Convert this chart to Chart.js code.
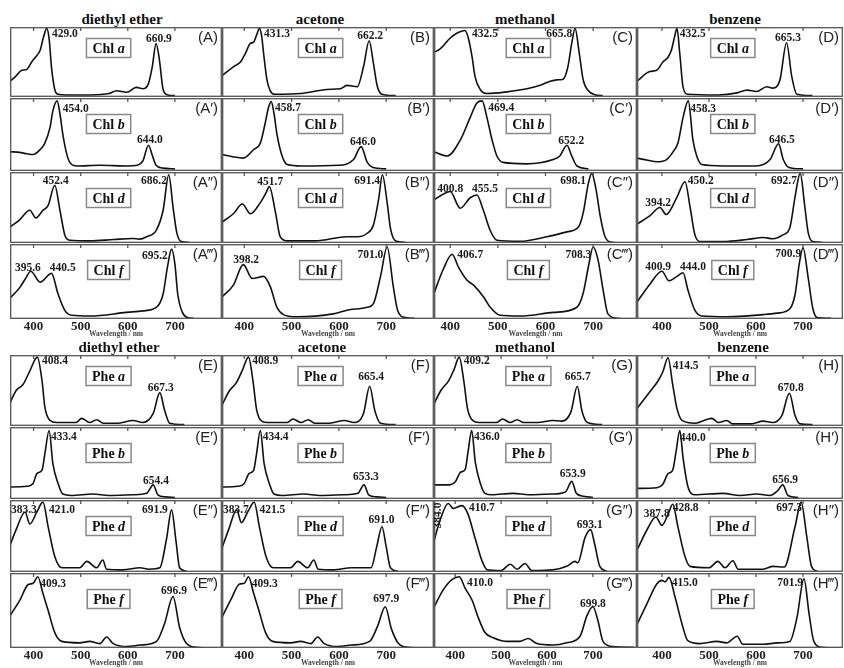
<!DOCTYPE html>
<html>
<head>
<meta charset="utf-8">
<script src="https://cdn.jsdelivr.net/npm/chart.js@4.4.0/dist/chart.umd.min.js"></script>
<style>
  body { margin: 0; background: #fff; width: 844px; height: 668px; position: relative; overflow: hidden; }
  .cell { position: absolute; }
  .cell canvas { display: block; }
  .title { position: absolute; font: bold 15px "Liberation Serif", serif; color: #111; transform: translate(-50%, -50%); white-space: nowrap; }
</style>
</head>
<body>
<script>
// x ticks shared by every panel
var xTicks = [400, 500, 600, 700];
var solvents = ['diethyl ether', 'acetone', 'methanol', 'benzene'];

// spectra, [wavelength nm, normalised absorbance]
var chlA_ether = [[350,0.23],[362,0.30],[375,0.39],[385,0.40],[396,0.51],[404,0.58],[414,0.68],[421,0.87],[428,1.0],[433,0.85],[438,0.44],[445,0.11],[452,0.04],[470,0.03],[520,0.03],[560,0.05],[576,0.09],[598,0.07],[618,0.14],[632,0.12],[643,0.18],[652,0.44],[660,0.78],[667,0.55],[675,0.11],[685,0.03],[700,0.02]];
var chlB_ether = [[350,0.27],[370,0.26],[386,0.24],[399,0.23],[414,0.30],[424,0.39],[435,0.61],[441,0.84],[450,0.98],[456,0.80],[462,0.52],[470,0.25],[477,0.12],[492,0.07],[540,0.08],[600,0.07],[620,0.08],[632,0.14],[644,0.36],[652,0.22],[660,0.08],[675,0.04],[700,0.03]];
var chlD_ether = [[348,0.22],[370,0.33],[392,0.47],[405,0.36],[420,0.47],[431,0.54],[445,0.83],[456,0.47],[467,0.10],[477,0.04],[520,0.03],[570,0.05],[611,0.065],[625,0.055],[640,0.09],[661,0.19],[675,0.47],[687,0.98],[696,0.52],[704,0.15],[714,0.02],[730,0.01]];
var chlF_ether = [[348,0.27],[371,0.43],[383,0.55],[394,0.65],[414,0.50],[438,0.62],[452,0.34],[467,0.11],[481,0.05],[520,0.04],[597,0.09],[632,0.11],[661,0.16],[675,0.34],[684,0.70],[693,0.95],[700,0.75],[706,0.34],[716,0.09],[727,0.02],[740,0.01]];

var chlA_acetone = [[353,0.31],[377,0.44],[392,0.51],[402,0.63],[413,0.78],[420,0.80],[427,0.92],[432,1.0],[437,0.88],[441,0.63],[448,0.25],[455,0.09],[465,0.04],[520,0.05],[575,0.11],[603,0.12],[617,0.17],[639,0.15],[652,0.44],[664,0.82],[673,0.49],[681,0.16],[691,0.04],[720,0.02]];
var chlB_acetone = [[353,0.23],[375,0.20],[398,0.18],[420,0.30],[434,0.39],[444,0.66],[451,0.88],[457,0.97],[463,0.80],[469,0.52],[480,0.21],[491,0.09],[520,0.07],[600,0.08],[631,0.16],[647,0.34],[660,0.12],[672,0.05],[700,0.03]];
var chlD_acetone = [[353,0.30],[377,0.42],[396,0.56],[413,0.42],[434,0.58],[446,0.72],[453,0.81],[466,0.44],[476,0.09],[490,0.03],[550,0.03],[617,0.09],[639,0.09],[660,0.14],[673,0.26],[684,0.63],[692,0.98],[702,0.58],[709,0.21],[720,0.03],[740,0.01]];
var chlF_acetone = [[353,0.30],[377,0.46],[398,0.74],[417,0.55],[441,0.58],[455,0.44],[469,0.16],[483,0.06],[510,0.03],[588,0.07],[617,0.12],[660,0.16],[673,0.21],[688,0.58],[702,0.98],[715,0.44],[724,0.12],[740,0.02],[760,0.01]];

var chlA_methanol = [[366,0.65],[379,0.70],[400,0.86],[414,0.93],[431,0.97],[438,0.86],[446,0.58],[452,0.30],[463,0.11],[477,0.05],[519,0.075],[561,0.12],[589,0.17],[610,0.23],[624,0.25],[637,0.26],[647,0.44],[655,0.78],[662,1.0],[671,0.63],[679,0.25],[690,0.09],[705,0.03],[720,0.02]];
var chlB_methanol = [[366,0.27],[394,0.21],[421,0.43],[442,0.75],[456,0.95],[467,0.98],[477,0.75],[488,0.43],[498,0.21],[511,0.12],[560,0.10],[616,0.16],[630,0.21],[645,0.36],[655,0.21],[666,0.07],[690,0.03]];
var chlD_methanol = [[366,0.62],[385,0.70],[400,0.74],[421,0.50],[442,0.65],[456,0.69],[469,0.48],[484,0.18],[498,0.04],[547,0.025],[603,0.09],[645,0.16],[669,0.23],[679,0.43],[690,0.86],[697,1.0],[706,0.77],[715,0.38],[725,0.09],[739,0.01],[760,0.0]];
var chlF_methanol = [[366,0.35],[385,0.67],[404,0.88],[417,0.71],[435,0.53],[449,0.46],[470,0.30],[484,0.16],[505,0.05],[547,0.04],[617,0.09],[666,0.16],[679,0.35],[690,0.71],[700,0.98],[710,0.81],[721,0.39],[731,0.07],[750,0.01],[790,0.0]];

var chlA_benzene = [[347,0.23],[374,0.37],[389,0.39],[402,0.51],[413,0.58],[420,0.68],[427,0.88],[432,1.0],[438,0.63],[445,0.14],[455,0.04],[520,0.03],[560,0.06],[581,0.10],[601,0.08],[623,0.15],[636,0.13],[651,0.25],[665,0.79],[676,0.30],[687,0.04],[720,0.02]];
var chlB_benzene = [[347,0.18],[370,0.15],[389,0.13],[410,0.16],[424,0.27],[434,0.39],[445,0.75],[456,0.98],[466,0.43],[474,0.21],[485,0.09],[530,0.07],[600,0.07],[630,0.16],[648,0.38],[658,0.16],[670,0.05],[700,0.03]];
var chlD_benzene = [[347,0.27],[374,0.39],[396,0.51],[409,0.41],[432,0.66],[449,0.88],[460,0.51],[470,0.12],[481,0.02],[530,0.02],[581,0.05],[615,0.08],[636,0.06],[658,0.12],[672,0.22],[683,0.66],[694,1.0],[704,0.51],[711,0.15],[721,0.02],[740,0.01]];
var chlF_benzene = [[347,0.23],[374,0.47],[400,0.65],[415,0.52],[432,0.58],[445,0.63],[455,0.40],[470,0.12],[485,0.04],[540,0.03],[615,0.06],[645,0.08],[672,0.14],[683,0.33],[692,0.75],[700,0.97],[711,0.56],[721,0.14],[730,0.02],[760,0.01]];

var pheA_ether = [[348,0.30],[363,0.51],[378,0.60],[392,0.79],[408,0.99],[418,0.65],[424,0.27],[435,0.08],[449,0.05],[490,0.05],[502,0.11],[519,0.05],[534,0.09],[548,0.04],[580,0.04],[611,0.08],[632,0.05],[654,0.18],[668,0.48],[678,0.23],[689,0.04],[720,0.02]];
var pheB_ether = [[348,0.17],[386,0.18],[399,0.22],[407,0.36],[418,0.41],[424,0.64],[433,0.97],[441,0.50],[452,0.22],[462,0.07],[480,0.05],[526,0.07],[560,0.05],[611,0.06],[640,0.08],[654,0.20],[664,0.06],[680,0.03],[700,0.02]];
var pheD_ether = [[348,0.34],[363,0.60],[382,0.85],[392,0.68],[407,0.85],[420,0.99],[431,0.64],[445,0.22],[460,0.06],[498,0.06],[513,0.15],[534,0.06],[547,0.17],[555,0.04],[590,0.03],[626,0.06],[645,0.04],[668,0.06],[682,0.46],[693,0.88],[702,0.46],[710,0.06],[725,0.01]];
var pheF_ether = [[348,0.42],[371,0.65],[388,0.86],[399,0.88],[409,0.97],[420,0.74],[431,0.51],[445,0.21],[460,0.09],[498,0.07],[519,0.09],[541,0.06],[555,0.15],[569,0.06],[597,0.02],[626,0.04],[661,0.09],[678,0.33],[696,0.70],[710,0.28],[725,0.06],[745,0.01],[790,0.0]];

var pheA_acetone = [[353,0.30],[368,0.50],[383,0.62],[396,0.80],[409,0.99],[419,0.62],[426,0.24],[437,0.07],[450,0.05],[490,0.05],[503,0.10],[520,0.05],[535,0.09],[549,0.04],[580,0.04],[612,0.08],[632,0.05],[652,0.18],[665,0.57],[676,0.22],[688,0.04],[720,0.02]];
var pheB_acetone = [[353,0.17],[386,0.18],[400,0.22],[410,0.36],[420,0.41],[426,0.64],[434,0.97],[442,0.50],[453,0.22],[463,0.07],[480,0.05],[526,0.07],[560,0.05],[611,0.06],[640,0.08],[653,0.20],[663,0.06],[680,0.03],[700,0.02]];
var pheD_acetone = [[353,0.34],[367,0.60],[384,0.88],[394,0.70],[408,0.86],[421,0.99],[432,0.64],[446,0.22],[461,0.06],[498,0.06],[513,0.15],[534,0.06],[547,0.17],[556,0.04],[590,0.03],[626,0.06],[668,0.06],[680,0.36],[691,0.64],[700,0.36],[709,0.06],[725,0.01]];
var pheF_acetone = [[353,0.42],[372,0.66],[390,0.87],[400,0.88],[409,0.97],[420,0.74],[431,0.51],[445,0.21],[460,0.09],[498,0.07],[519,0.09],[541,0.06],[555,0.15],[569,0.06],[597,0.02],[626,0.04],[665,0.09],[682,0.30],[698,0.56],[711,0.26],[726,0.06],[745,0.01],[790,0.0]];

var pheA_methanol = [[354,0.32],[370,0.52],[385,0.64],[397,0.80],[409,0.99],[419,0.64],[427,0.25],[438,0.08],[452,0.05],[490,0.05],[503,0.10],[520,0.05],[535,0.09],[549,0.05],[580,0.05],[612,0.08],[632,0.07],[652,0.20],[666,0.57],[676,0.22],[688,0.05],[720,0.02]];
var pheB_methanol = [[354,0.20],[386,0.20],[400,0.24],[412,0.38],[422,0.42],[428,0.66],[436,0.97],[444,0.52],[455,0.22],[465,0.08],[480,0.06],[526,0.08],[560,0.06],[611,0.07],[640,0.10],[654,0.25],[664,0.08],[680,0.04],[700,0.02]];
var pheD_methanol = [[352,0.39],[367,0.73],[385,0.97],[396,0.90],[415,0.94],[428,0.82],[443,0.49],[459,0.15],[470,0.03],[500,0.02],[520,0.11],[535,0.04],[552,0.12],[567,0.02],[613,0.03],[643,0.08],[661,0.15],[667,0.13],[683,0.49],[695,0.60],[704,0.39],[715,0.08],[730,0.01]];
var pheF_methanol = [[352,0.53],[374,0.79],[393,0.93],[409,0.97],[422,0.81],[437,0.65],[450,0.42],[465,0.21],[483,0.14],[513,0.09],[541,0.09],[559,0.13],[578,0.06],[613,0.04],[643,0.07],[672,0.16],[687,0.44],[700,0.56],[711,0.37],[722,0.09],[743,0.02],[790,0.01]];

var pheA_benzene = [[347,0.25],[374,0.49],[391,0.64],[402,0.78],[413,0.98],[423,0.59],[432,0.25],[443,0.08],[470,0.04],[506,0.11],[520,0.05],[538,0.08],[550,0.03],[590,0.03],[615,0.07],[635,0.05],[655,0.15],[671,0.47],[683,0.15],[694,0.03],[720,0.02]];
var pheB_benzene = [[347,0.15],[389,0.16],[402,0.21],[413,0.36],[423,0.41],[430,0.67],[438,0.97],[445,0.58],[455,0.18],[470,0.06],[530,0.08],[566,0.05],[602,0.07],[630,0.05],[645,0.11],[657,0.20],[668,0.05],[690,0.02]];
var pheD_benzene = [[347,0.31],[370,0.62],[387,0.78],[400,0.66],[413,0.82],[423,0.96],[434,0.64],[449,0.22],[460,0.08],[500,0.06],[519,0.15],[534,0.06],[551,0.16],[562,0.04],[615,0.04],[636,0.08],[660,0.07],[683,0.64],[696,0.99],[708,0.50],[718,0.08],[730,0.01]];
var pheF_benzene = [[347,0.32],[368,0.60],[389,0.87],[400,0.92],[407,0.90],[415,0.96],[428,0.69],[443,0.32],[455,0.10],[480,0.06],[517,0.09],[538,0.07],[560,0.16],[572,0.05],[615,0.05],[645,0.07],[672,0.09],[687,0.41],[702,0.94],[713,0.46],[723,0.09],[740,0.01],[780,0.0]];

var chlSpectra = [
  [chlA_ether, chlB_ether, chlD_ether, chlF_ether],
  [chlA_acetone, chlB_acetone, chlD_acetone, chlF_acetone],
  [chlA_methanol, chlB_methanol, chlD_methanol, chlF_methanol],
  [chlA_benzene, chlB_benzene, chlD_benzene, chlF_benzene]
];
var pheSpectra = [
  [pheA_ether, pheB_ether, pheD_ether, pheF_ether],
  [pheA_acetone, pheB_acetone, pheD_acetone, pheF_acetone],
  [pheA_methanol, pheB_methanol, pheD_methanol, pheF_methanol],
  [pheA_benzene, pheB_benzene, pheD_benzene, pheF_benzene]
];

// peak labels: text, anchor nm, anchor height, alignment (l / c / r / v = rotated)
var chlLabels = [
  [ [['429.0',439,0.92,'l'],['660.9',666,0.85,'c']],
    [['454.0',462,0.86,'l'],['644.0',647,0.43,'c']],
    [['452.4',447,0.89,'c'],['686.2',683,0.89,'r']],
    [['395.6',388,0.69,'c'],['440.5',462,0.69,'c'],['695.2',685,0.85,'r']] ],
  [ [['431.3',442,0.92,'l'],['662.2',666,0.89,'c']],
    [['458.7',465,0.88,'l'],['646.0',651,0.41,'c']],
    [['451.7',455,0.875,'c'],['691.4',687,0.89,'r']],
    [['398.2',404,0.80,'c'],['701.0',694,0.87,'r']] ],
  [ [['432.5',446,0.92,'l'],['665.8',656,0.92,'r']],
    [['469.4',480,0.88,'l'],['652.2',654,0.42,'c']],
    [['400.8',400,0.78,'c'],['455.5',473,0.78,'c'],['698.1',685,0.89,'r']],
    [['406.7',415,0.87,'l'],['708.3',696,0.87,'r']] ],
  [ [['432.5',438,0.92,'l'],['665.3',668,0.86,'c']],
    [['458.3',460,0.86,'l'],['646.5',655,0.43,'c']],
    [['394.2',392,0.58,'c'],['450.2',455,0.89,'l'],['692.7',687,0.89,'r']],
    [['400.9',392,0.71,'c'],['444.0',466,0.71,'c'],['700.9',696,0.88,'r']] ]
];
var pheLabels = [
  [ [['408.4',418,0.94,'l'],['667.3',670,0.54,'c']],
    [['433.4',437,0.88,'l'],['654.4',660,0.25,'c']],
    [['383.3',352,0.88,'l'],['421.0',433,0.88,'l'],['691.9',685,0.88,'r']],
    [['409.3',414,0.87,'l'],['696.9',698,0.77,'c']] ],
  [ [['408.9',417,0.94,'l'],['665.4',668,0.70,'c']],
    [['434.4',439,0.88,'l'],['653.3',657,0.31,'c']],
    [['383.7',355,0.88,'l'],['421.5',432,0.88,'l'],['691.0',690,0.74,'c']],
    [['409.3',416,0.87,'l'],['697.9',700,0.66,'c']] ],
  [ [['409.2',419,0.94,'l'],['665.7',667,0.70,'c']],
    [['436.0',441,0.88,'l'],['653.9',656,0.35,'c']],
    [['384.0',363,0.80,'v'],['410.7',430,0.90,'l'],['693.1',693,0.66,'c']],
    [['410.0',426,0.88,'l'],['699.8',700,0.60,'c']] ],
  [ [['414.5',423,0.86,'l'],['670.8',674,0.54,'c']],
    [['440.0',438,0.86,'l'],['656.9',662,0.27,'c']],
    [['387.8',389,0.82,'c'],['428.8',423,0.90,'l'],['697.3',698,0.90,'r']],
    [['415.0',421,0.89,'l'],['701.9',700,0.89,'r']] ]
];

var forms = ['a', 'b', 'd', 'f'];
var primes = ['', '\u2032', '\u2033', '\u2034'];
var colEdges = [10, 222, 434, 637, 843];

var groups = [
  { rows: [27, 98, 172, 244, 319], titleY: 19, titleX: [122, 320, 525, 735], letters: ['A','B','C','D'],
    kind: 'Chl', spectra: chlSpectra, labels: chlLabels, ranges: [[350,800],[353,801],[366,792],[347,785]] },
  { rows: [355, 427, 500, 573, 648], titleY: 347, titleX: [119, 322, 525, 743], letters: ['E','F','G','H'],
    kind: 'Phe', spectra: pheSpectra, labels: pheLabels, ranges: [[350,800],[353,801],[354,796],[347,785]] }
];

var serif = '"Liberation Serif", "Times New Roman", serif';
var panels = {};

// frame, inner ticks, pigment box, peak labels and panel letter
var panelDeco = {
  id: 'panelDeco',
  afterDatasetsDraw: function( chart ) {
    var p = panels[ chart.canvas.id ];
    var ctx = chart.ctx;
    var a = chart.chartArea;
    var xs = chart.scales.x;
    var ys = chart.scales.y;
    var w = a.right - a.left;

    ctx.save();
    ctx.strokeStyle = '#555';
    ctx.lineWidth = 1.3;
    ctx.strokeRect( a.left + 0.7, a.top + 0.7, w - 1.4, a.bottom - a.top - 1.4 );
    xTicks.forEach( function( v ) {
      var x = xs.getPixelForValue( v );
      ctx.beginPath();
      ctx.moveTo( x, a.top );
      ctx.lineTo( x, a.top + 4 );
      ctx.stroke();
    } );

    // pigment name in a box
    ctx.font = 'bold 14px ' + serif;
    var w1 = ctx.measureText( p.kind + ' ' ).width;
    ctx.font = 'italic bold 14px ' + serif;
    var w2 = ctx.measureText( p.form ).width;
    var cx = a.left + 0.465 * w;
    var cy = a.top + ( p.row === 0 ? 21 : 26 );
    var bw = w1 + w2 + 12;
    ctx.strokeStyle = '#888';
    ctx.lineWidth = 1.5;
    ctx.strokeRect( cx - bw / 2, cy - 9.5, bw, 19 );
    ctx.fillStyle = '#111';
    ctx.textBaseline = 'middle';
    ctx.textAlign = 'left';
    ctx.font = 'bold 14px ' + serif;
    ctx.fillText( p.kind + ' ', cx - ( w1 + w2 ) / 2, cy + 1 );
    ctx.font = 'italic bold 14px ' + serif;
    ctx.fillText( p.form, cx - ( w1 + w2 ) / 2 + w1, cy + 1 );

    // peak wavelengths
    ctx.font = 'bold 11.5px ' + serif;
    ctx.fillStyle = '#1a1a1a';
    p.labels.forEach( function( l ) {
      var x = xs.getPixelForValue( l[1] );
      var y = ys.getPixelForValue( l[2] );
      if ( l[3] === 'v' ) {
        ctx.save();
        ctx.translate( x, y );
        ctx.rotate( -Math.PI / 2 );
        ctx.textAlign = 'center';
        ctx.fillText( l[0], 0, 0 );
        ctx.restore();
        return;
      }
      ctx.textAlign = l[3] === 'l' ? 'left' : ( l[3] === 'r' ? 'right' : 'center' );
      ctx.fillText( l[0], x, y );
    } );

    // panel letter
    ctx.font = '15px "Liberation Sans", Arial, sans-serif';
    ctx.fillStyle = '#222';
    ctx.textAlign = 'right';
    ctx.fillText( p.letter, a.right - 4, a.top + 11 );
    ctx.restore();
  }
};

groups.forEach( function( g, gi ) {
  solvents.forEach( function( s, c ) {
    var t = document.createElement( 'div' );
    t.className = 'title';
    t.style.left = g.titleX[c] + 'px';
    t.style.top = g.titleY + 'px';
    t.textContent = s;
    document.body.appendChild( t );

    for ( var r = 0; r < 4; r++ ) {
      var bottom = r === 3;
      var id = 'p' + gi + c + r;
      var left = colEdges[c];
      var width = colEdges[c + 1] - colEdges[c];
      var top = g.rows[r];
      var height = g.rows[r + 1] - g.rows[r] + ( bottom ? 20 : -1 );

      var box = document.createElement( 'div' );
      box.className = 'cell';
      box.style.left = left + 'px';
      box.style.top = top + 'px';
      box.style.width = width + 'px';
      box.style.height = height + 'px';
      var cv = document.createElement( 'canvas' );
      cv.id = id;
      box.appendChild( cv );
      document.body.appendChild( box );

      panels[id] = {
        row: r,
        kind: g.kind,
        form: forms[r],
        letter: '(' + g.letters[c] + primes[r] + ')',
        labels: g.labels[c][r]
      };

      new Chart( cv.getContext( '2d' ), {
        type: 'line',
        data: {
          datasets: [ {
            data: g.spectra[c][r],
            borderColor: '#111',
            borderWidth: 1.6,
            pointRadius: 0,
            fill: false,
            cubicInterpolationMode: 'monotone'
          } ]
        },
        options: {
          responsive: true,
          maintainAspectRatio: false,
          animation: false,
          events: [],
          layout: { padding: 0 },
          plugins: { legend: { display: false }, tooltip: { enabled: false } },
          scales: {
            x: {
              type: 'linear',
              min: g.ranges[c][0],
              max: g.ranges[c][1],
              display: bottom,
              position: 'bottom',
              afterBuildTicks: function( sc ) {
                sc.ticks = xTicks.map( function( v ) { return { value: v }; } );
              },
              afterFit: bottom ? function( sc ) { sc.height = 20; } : undefined,
              grid: { display: false, drawTicks: false },
              border: { display: false },
              ticks: {
                font: { family: serif, size: 13, weight: 'bold' },
                color: '#222',
                padding: 0,
                maxRotation: 0
              },
              title: {
                display: true,
                text: 'Wavelength / nm',
                font: { family: serif, size: 7.5, weight: 'bold' },
                color: '#444',
                padding: 0
              }
            },
            y: { display: false, min: 0, max: 1.02 }
          }
        },
        plugins: [ panelDeco ]
      } );
    }
  } );
} );
</script>
</body>
</html>
